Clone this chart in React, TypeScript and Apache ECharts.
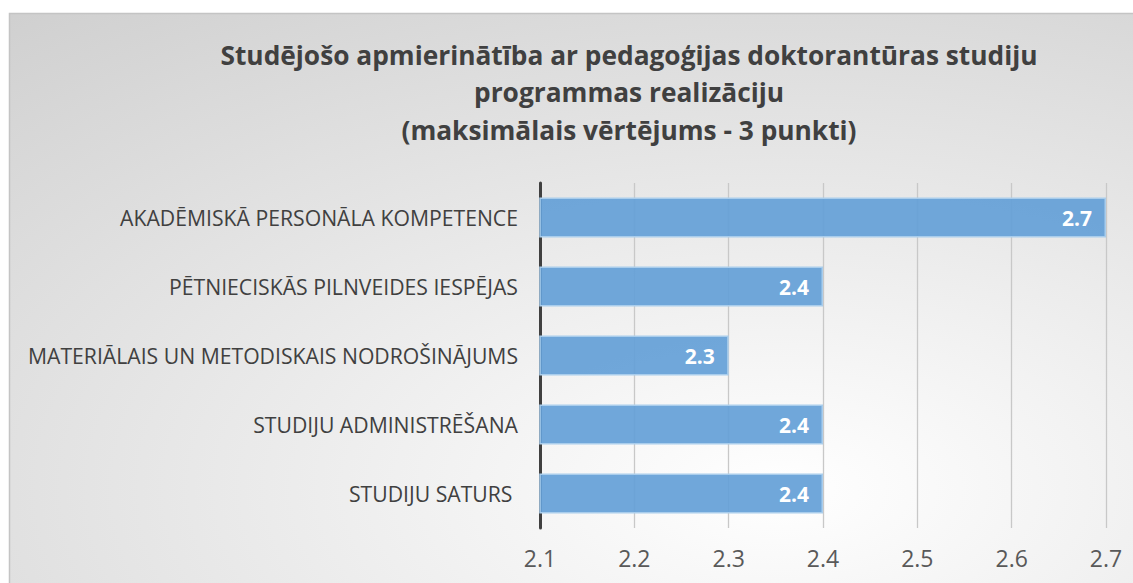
import React, { useEffect, useRef } from "react";
import * as echarts from "echarts";

const categories = [
  "STUDIJU SATURS ",
  "STUDIJU ADMINISTRĒŠANA",
  "MATERIĀLAIS UN METODISKAIS NODROŠINĀJUMS",
  "PĒTNIECISKĀS PILNVEIDES IESPĒJAS",
  "AKADĒMISKĀ PERSONĀLA KOMPETENCE",
];
const values = [2.4, 2.4, 2.3, 2.4, 2.7];
const titleLines = [
  "Studējošo apmierinātība ar pedagoģijas doktorantūras studiju",
  "programmas realizāciju",
  "(maksimālais vērtējums - 3 punkti)",
];

export default function App() {
  const ref = useRef<HTMLDivElement>(null);
  useEffect(() => {
    const chart = echarts.init(ref.current!, null, { renderer: "svg" });
    const font = "Open Sans";
    chart.setOption({
      animation: false,
      graphic: [
        {
          type: "rect",
          z: -10,
          silent: true,
          shape: { x: 9.5, y: 13.5, width: 1140, height: 580 },
          style: {
            fill: {
              type: "radial",
              x: 0.676,
              y: 0.82,
              r: 1.28,
              colorStops: [
                { offset: 0, color: "#ffffff" },
                { offset: 1, color: "#c6c6c6" },
              ],
            },
            stroke: "#c4c4c4",
            lineWidth: 1.5,
          },
        },
      ],
      title: {
        text: titleLines.join("\n"),
        left: 624,
        textAlign: "center",
        top: 31,
        textStyle: {
          fontFamily: font,
          fontWeight: "bold",
          fontSize: 26.3,
          lineHeight: 37.5,
          color: "#404040",
        },
      },
      grid: { left: 540, right: 27, top: 183, bottom: 55, containLabel: false },
      xAxis: {
        type: "value",
        min: 2.1,
        max: 2.7,
        interval: 0.1,
        axisLine: { show: false },
        axisTick: { show: false },
        splitLine: { show: true, lineStyle: { color: "#c8c8c8", width: 1.3 } },
        axisLabel: {
          margin: 18,
          fontFamily: font,
          fontSize: 23,
          color: "#595959",
          formatter: (v: number) => v.toFixed(1),
        },
      },
      yAxis: {
        type: "category",
        data: categories,
        axisLine: { show: true, lineStyle: { color: "#404040", width: 3 } },
        axisTick: { show: false },
        axisLabel: {
          margin: 22,
          fontFamily: font,
          fontSize: 21.2,
          color: "#404040",
        },
      },
      series: [
        {
          type: "bar",
          data: values,
          barCategoryGap: "42%",
          itemStyle: {
            color: "rgba(100,160,215,0.92)",
            borderColor: "#a9cdec",
            borderWidth: 1.5,
          },
          label: {
            show: true,
            position: "insideRight",
            distance: 14,
            fontFamily: font,
            fontWeight: "bold",
            fontSize: 21,
            color: "#ffffff",
            formatter: (p: any) => p.value.toFixed(1),
          },
        },
      ],
    });
    return () => chart.dispose();
  }, []);
  return (
    <div
      ref={ref}
      style={{ position: "absolute", left: 0, top: 0, width: 1133, height: 583, background: "#ffffff" }}
    />
  );
}
